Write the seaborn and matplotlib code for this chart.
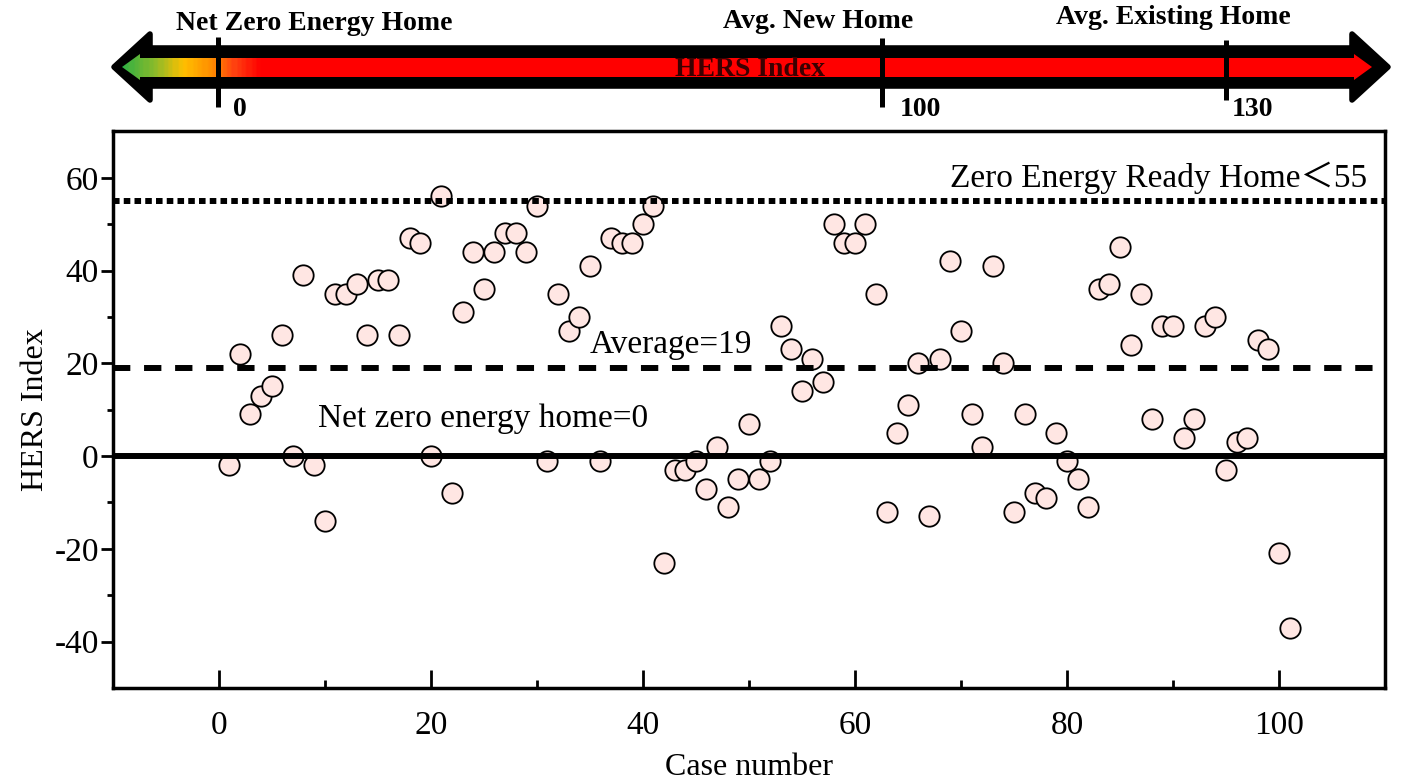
import matplotlib
matplotlib.use("Agg")
import matplotlib.pyplot as plt
import numpy as np
import pandas as pd
import seaborn as sns
from matplotlib.colors import LinearSegmentedColormap
from matplotlib.patches import Polygon

# HERS index of each case
case_number = list(range(1, 102))
hers_index = [-2, 22, 9, 13, 15, 26, 0, 39, -2, -14,
              35, 35, 37, 26, 38, 38, 26, 47, 46, 0,
              56, -8, 31, 44, 36, 44, 48, 48, 44, 54,
              -1, 35, 27, 30, 41, -1, 47, 46, 46, 50,
              54, -23, -3, -3, -1, -7, 2, -11, -5, 7,
              -5, -1, 28, 23, 14, 21, 16, 50, 46, 46,
              50, 35, -12, 5, 11, 20, -13, 21, 42, 27,
              9, 2, 41, 20, -12, 9, -8, -9, 5, -1,
              -5, -11, 36, 37, 45, 24, 35, 8, 28, 28,
              4, 8, 28, 30, -3, 3, 4, 25, 23, -21, -37]

# reference lines
ref_values = [0, 19, 55]
ref_styles = ['solid', 'dashed', 'dotted']
ref_labels = ['Net zero energy home=0', 'Average=19', 'Zero Energy Ready Home\uff1c55']

# HERS scale on top
scale_marks = ['0', '100', '130']
scale_names = ['Net Zero Energy Home', 'Avg. New Home', 'Avg. Existing Home']

sns.set_style('ticks')
plt.rcParams['font.family'] = ['Liberation Serif', 'Noto Sans CJK SC']
for key in ['text.color', 'axes.labelcolor', 'xtick.color', 'ytick.color', 'axes.edgecolor']:
    plt.rcParams[key] = 'black'

fig = plt.figure(figsize=(14.01, 7.82), dpi=100)
ax = fig.add_axes([0.0804, 0.1202, 0.9082, 0.7118])

df = pd.DataFrame({'case': case_number, 'hers': hers_index})
sns.scatterplot(data=df, x='case', y='hers', ax=ax, s=215, color='#ffe6e3',
                edgecolor='black', linewidth=1.3, zorder=3, legend=False)

dash_map = {'dashed': (0, (2.9, 2.3)), 'dotted': (0, (1.1, 0.7))}
for val, st in zip(ref_values, ref_styles):
    if st == 'solid':
        ax.axhline(val, color='black', lw=4.3, zorder=4)
    else:
        ax.axhline(val, color='black', lw=4.3, linestyle=dash_map[st],
                   dash_capstyle='butt', zorder=4)

ax.text(9.4, 6.3, ref_labels[0], fontsize=24, ha='left', va='baseline')
ax.text(35.0, 22.2, ref_labels[1], fontsize=24, ha='left', va='baseline')
ax.text(69.0, 58.1, ref_labels[2], fontsize=24, ha='left', va='baseline')

ax.set_xlim(-10, 110)
ax.set_ylim(-50, 70)
ax.set_xticks(range(0, 101, 20))
ax.set_xticks(range(10, 100, 20), minor=True)
ax.set_yticks(range(-40, 61, 20))
ax.set_yticks(range(-30, 51, 20), minor=True)
ax.tick_params(axis='x', which='major', direction='in', length=13, width=2, pad=16, labelsize=24)
ax.tick_params(axis='x', which='minor', direction='in', length=6, width=2)
ax.tick_params(axis='y', which='major', direction='out', length=9, width=2, pad=1, labelsize=24)
ax.tick_params(axis='y', which='minor', direction='out', length=4.5, width=2)
ax.set_yticklabels([str(v) for v in range(-40, 61, 20)])
for sp in ax.spines.values():
    sp.set_visible(True)
    sp.set_linewidth(2.5)
ax.set_xlabel('Case number', fontsize=23, labelpad=9)
ax.set_ylabel('HERS Index', fontsize=23, labelpad=3)

# top HERS scale arrow (pixel coordinates)
top = fig.add_axes([0, 1 - 125 / 782, 1, 125 / 782])
top.set_xlim(0, 1401)
top.set_ylim(125, 0)
top.axis('off')

outer = [(114, 67), (150, 34), (150, 48), (1352, 48), (1352, 34), (1388, 67),
         (1352, 100), (1352, 86), (150, 86), (150, 100)]
top.add_patch(Polygon(outer, closed=True, facecolor='black', edgecolor='black',
                      lw=4, joinstyle='round'))
inner = [(122, 67), (140, 54), (140, 58), (1354, 58), (1354, 54), (1372, 67),
         (1354, 80), (1354, 77), (140, 77), (140, 80)]
inner_patch = Polygon(inner, closed=True, facecolor='none', edgecolor='none')
top.add_patch(inner_patch)
x0, x1 = 118, 1376
stops = [(x0, '#2eb045'), (152, '#8dbb2a'), (180, '#ffc000'), (210, '#ff8a00'),
         (232, '#ff4010'), (258, '#ff0000'), (x1, '#ff0000')]
cmap = LinearSegmentedColormap.from_list(
    'hers', [((p - x0) / (x1 - x0), c) for p, c in stops])
grad = np.linspace(0, 1, 600).reshape(1, -1)
img = top.imshow(grad, cmap=cmap, extent=[x0, x1, 81, 53], aspect='auto',
                 interpolation='bilinear', zorder=2)
img.set_clip_path(inner_patch)

top.text(750, 69, 'HERS Index', fontsize=20, fontweight='bold', color='#3a0000',
         ha='center', va='center', zorder=3)

mark_x = [218, 882, 1226]
mark_y = [(37, 107), (38, 107), (40, 100)]
name_x = [314, 818, 1173]
name_y = [24, 22, 17]
label_x = [240, 920, 1252]
for i in range(3):
    top.plot([mark_x[i], mark_x[i]], list(mark_y[i]), color='black', lw=3.6,
             solid_capstyle='butt', zorder=4)
    top.text(name_x[i], name_y[i], scale_names[i], fontsize=20, fontweight='bold',
             ha='center', va='center')
    top.text(label_x[i], 109, scale_marks[i], fontsize=20, fontweight='bold',
             ha='center', va='center')

fig.savefig('out.png', dpi=100)
